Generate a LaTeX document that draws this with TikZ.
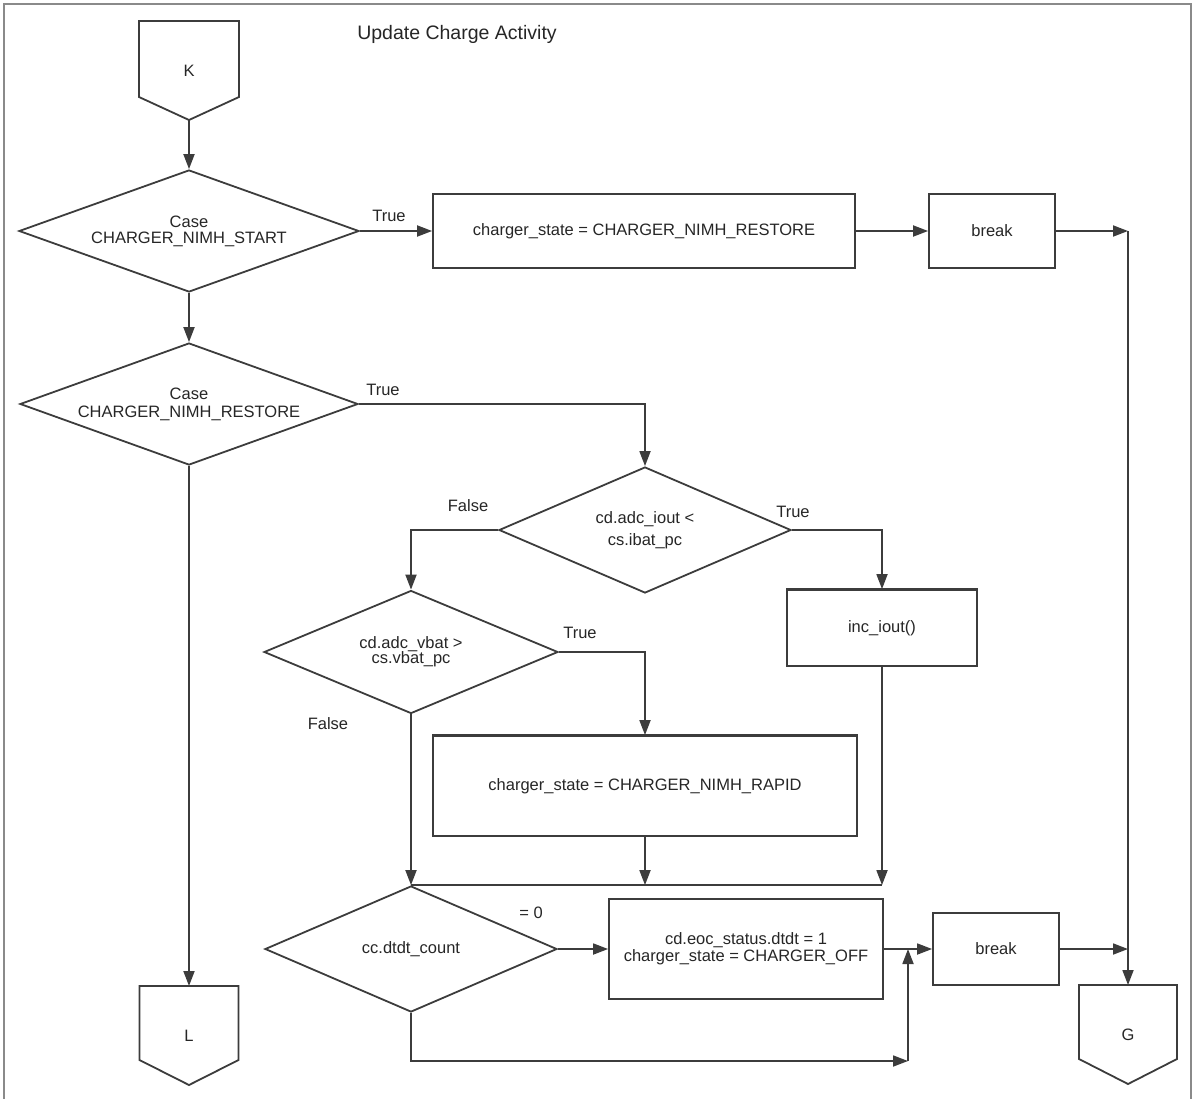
\documentclass[tikz,border=0pt]{standalone}
\usepackage{fontspec}
\setmainfont{Liberation Sans}
\usepackage{tikz}
\usetikzlibrary{shapes.geometric,arrows.meta}
\definecolor{linegray}{HTML}{3c3c3c}
\definecolor{framegray}{HTML}{8a8a8a}
\definecolor{textgray}{HTML}{262626}

\tikzset{
  every node/.style={font=\fontsize{16.5}{18}\selectfont, text=textgray},
  flow/.style={draw=linegray, line width=1.8pt},
  arr/.style={flow, -{Triangle[length=15pt,width=11pt]}},
  decision/.style={diamond, draw=linegray, line width=1.8pt, aspect=2.7, inner sep=0pt, align=center},
  process/.style={rectangle, draw=linegray, line width=1.8pt, align=center},
  offpage/.style={minimum width=100pt, minimum height=99pt, inner sep=0pt, outer sep=0pt},
  lbl/.style={inner sep=0pt},
}

\begin{document}
\begin{tikzpicture}[x=1pt,y=-1pt]
  \useasboundingbox (0,0) rectangle (1193,1098);
  \draw[framegray, line width=1.5pt] (4,1110) -- (4,4) -- (1191,4) -- (1191,1110);
  \node[lbl, font=\fontsize{19.5}{22}\selectfont] (title) at (457,34) {Update Charge Activity};

  % off-page connectors
  \node[offpage] (K) at (189,70.5) {K};
  \draw[flow] (K.north west) -- (K.north east) -- ([yshift=23pt]K.south east) -- (K.south) -- ([yshift=23pt]K.south west) -- cycle;
  \node[offpage, minimum width=99pt] (L) at (189,1035.5) {L};
  \draw[flow] (L.north west) -- (L.north east) -- ([yshift=25pt]L.south east) -- (L.south) -- ([yshift=25pt]L.south west) -- cycle;
  \node[offpage, minimum width=98pt] (G) at (1128,1034.5) {G};
  \draw[flow] (G.north west) -- (G.north east) -- ([yshift=25pt]G.south east) -- (G.south) -- ([yshift=25pt]G.south west) -- cycle;

  % decisions
  \node[decision, minimum width=340pt, minimum height=122pt] (start) at (189,231) {Case\\[-2pt]CHARGER\_NIMH\_START};
  \node[decision, minimum width=338pt, minimum height=122pt] (restore) at (189,404) {Case\\CHARGER\_NIMH\_RESTORE};
  \node[decision, minimum width=292pt, minimum height=126pt] (iout) at (645,530) {cd.adc\_iout <\\[4pt]cs.ibat\_pc};
  \node[decision, minimum width=294pt, minimum height=123pt] (vbat) at (411,652) {cd.adc\_vbat >\\[-3pt]cs.vbat\_pc};
  \node[decision, minimum width=292pt, minimum height=126pt] (dtdt) at (411,949) {cc.dtdt\_count};

  % actions
  \node[process, minimum width=422pt, minimum height=74pt] (setrestore) at (644,231) {charger\_state = CHARGER\_NIMH\_RESTORE};
  \node[process, minimum width=126pt, minimum height=74pt] (brkA) at (992,231) {break};
  \node[process, minimum width=190pt, minimum height=76pt] (inc) at (882,628) {inc\_iout()};
  \draw[linegray, line width=2.8pt] (inc.north west) -- (inc.north east);
  \node[process, minimum width=424pt, minimum height=100pt] (rapid) at (645,786) {charger\_state = CHARGER\_NIMH\_RAPID};
  \draw[linegray, line width=2.8pt] (rapid.north west) -- (rapid.north east);
  \node[process, minimum width=274pt, minimum height=100pt] (off) at (746,949) {cd.eoc\_status.dtdt = 1\\[-1pt]charger\_state = CHARGER\_OFF};
  \node[process, minimum width=126pt, minimum height=72pt] (brkB) at (996,949) {break};

  \coordinate (gtop) at (1128,231);
  \coordinate (join) at (908,1061);

  % connectors
  \draw[arr] (K.south) -- (start.north);
  \draw[arr] (start.south) -- (restore.north);
  \draw[arr] (restore.south) -- (L.north);
  \draw[arr] (start.east) -- (setrestore.west);
  \draw[arr] (setrestore.east) -- (brkA.west);
  \draw[arr] (brkA.east) -- (gtop);
  \draw[arr] (gtop) -- (G.north);
  \draw[arr] (restore.east) -| (iout.north);
  \draw[arr] (iout.west) -| (vbat.north);
  \draw[arr] (iout.east) -| (inc.north);
  \draw[arr] (vbat.east) -| (rapid.north);
  \draw[arr] (vbat.south) -- (dtdt.north);
  \draw[arr] (rapid.south) -- (rapid.south |- dtdt.north);
  \draw[arr] (inc.south) -- (inc.south |- dtdt.north);
  \draw[flow] (dtdt.north) -- (inc.south |- dtdt.north);
  \draw[arr] (dtdt.east) -- (off.west);
  \draw[arr] (off.east) -- (brkB.west);
  \draw[arr] (dtdt.south) |- (join);
  \draw[arr] (join) -- (join |- off.east);
  \draw[arr] (brkB.east) -- (G.north |- brkB.east);

  % branch labels
  \node[lbl] (tA) at (389,216) {True};
  \node[lbl] (tB) at (383,390) {True};
  \node[lbl] (fC) at (468,506) {False};
  \node[lbl] (tC) at (793,512) {True};
  \node[lbl] (tD) at (580,633) {True};
  \node[lbl] (fD) at (328,724) {False};
  \node[lbl] (zE) at (531,913) {= 0};
\end{tikzpicture}
\end{document}
